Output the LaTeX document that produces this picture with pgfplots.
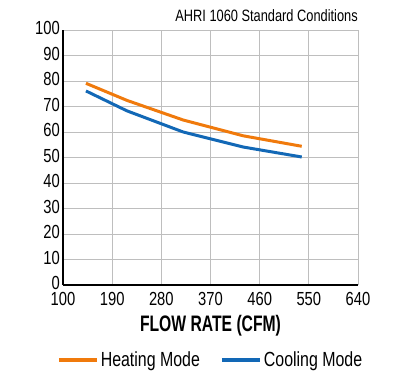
\documentclass[border=0pt]{standalone}
\usepackage{pgfplots}
\pgfplotsset{compat=1.18}
\usepackage{fontspec}
\setmainfont{Liberation Sans}[FakeStretch=0.78]
\newfontfamily\condfont{Liberation Sans}[FakeStretch=0.7]
\definecolor{heat}{RGB}{240,122,12}
\definecolor{cool}{RGB}{18,104,182}
\definecolor{gridc}{RGB}{190,190,190}
\begin{document}
\begin{tikzpicture}
\useasboundingbox (0,0) rectangle (400bp,380bp);
\begin{axis}[
  at={(63bp,95bp)}, anchor=south west,
  width=295bp, height=255bp, scale only axis,
  xmin=100, xmax=640, ymin=0, ymax=100,
  xtick={100,190,280,370,460,550,640},
  ytick={0,10,...,100},
  grid=major,
  major grid style={gridc, line width=0.8bp},
  axis lines=left,
  axis line style={-, black, line width=1.4bp},
  major tick length=0pt,
  /pgf/number format/assume math mode=true,
  /pgf/number format/.cd, 1000 sep={}, /pgfplots/.cd,
  ticklabel style={font=\fontsize{19}{20}\selectfont, inner sep=1bp},
  xticklabel style={yshift=-6bp},
  yticklabel style={xshift=-2bp, yshift=2bp},
  xlabel={\textbf{FLOW RATE (CFM)}},
  xlabel style={font=\condfont\fontsize{22.5}{24}\selectfont, yshift=-5bp},
  legend style={at={(0.5,-0.245)}, anchor=north, draw=none, fill=none,
    legend columns=2, font=\fontsize{20.5}{22}\selectfont,
    /tikz/every even column/.append style={column sep=18bp}},
  legend image code/.code={\draw[#1, line width=4bp] (0bp,0bp) -- (38bp,0bp);},
  clip=false,
]
\addplot[heat, line width=3bp] coordinates {(142,79.1) (217,72.4) (320,64.7) (430,58.5) (537,54.4)};
\addlegendentry{Heating Mode}
\addplot[cool, line width=3bp] coordinates {(142,76.1) (217,68.3) (320,60.0) (430,54.1) (537,50.2)};
\addlegendentry{Cooling Mode}
\node[anchor=south east, font=\fontsize{16.5}{18}\selectfont, inner sep=0pt] at (rel axis cs:1,1) [yshift=8bp] {AHRI 1060 Standard Conditions};
\end{axis}
\end{tikzpicture}
\end{document}
